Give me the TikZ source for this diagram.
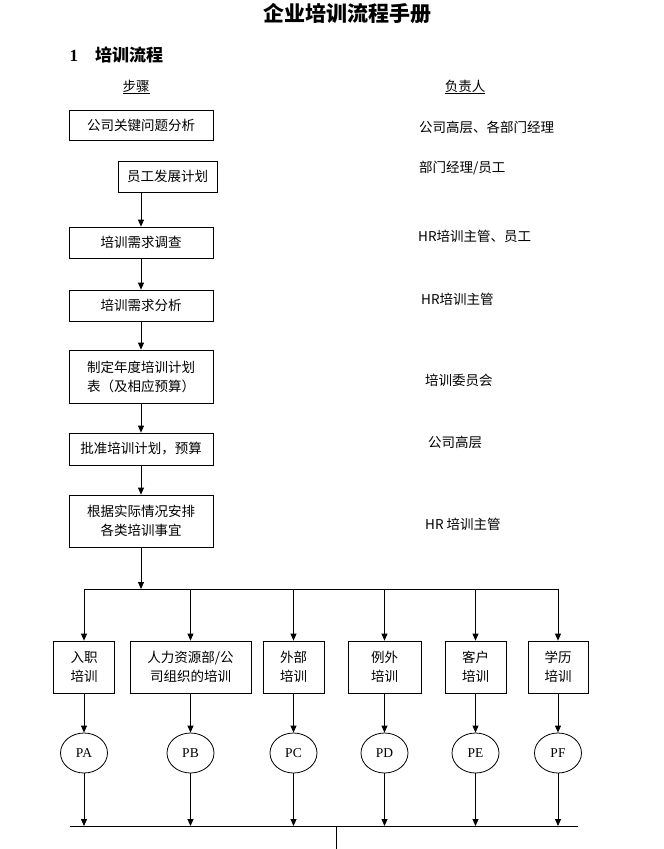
\documentclass[tikz,border=0pt]{standalone}
\usepackage{fontspec}
\setmainfont{Liberation Serif}
\newfontfamily\cjk{Noto Sans CJK SC}
\usetikzlibrary{arrows.meta,shapes.geometric}

\begin{document}
\begin{tikzpicture}[x=1pt,y=-1pt,
  stepbox/.style={draw, line width=0.8pt, inner sep=0pt, align=center, font=\cjk\fontsize{13.5}{19}\selectfont},
  lbl/.style={anchor=west, inner sep=0pt, font=\cjk\fontsize{13.5}{16}\selectfont},
  kind/.style={ellipse, draw, line width=0.8pt, minimum width=47pt, minimum height=40pt, inner sep=0pt, font=\fontsize{13.5}{15}\selectfont},
  flow/.style={line width=0.8pt, -{Triangle[length=7pt,width=6pt]}}]
\useasboundingbox (0,0) rectangle (664,849);
% heading
\node[font=\cjk\bfseries\fontsize{21}{23}\selectfont] (title) at (347,14) {企业培训流程手册};
\node[anchor=west, font=\bfseries\fontsize{17}{19}\selectfont] (sec) at (66,55) {1\quad{\cjk 培训流程}};
\node[font=\cjk\fontsize{13.5}{16}\selectfont] (hstep) at (136,87) {\underline{步骤}};
\node[font=\cjk\fontsize{13.5}{16}\selectfont] (hresp) at (465,87) {\underline{负责人}};
% main steps
\node[stepbox, minimum width=144pt, minimum height=30pt] (s1) at (141,125) {公司关键问题分析};
\node[stepbox, minimum width=99pt, minimum height=31pt] (s2) at (167.5,176.5) {员工发展计划};
\node[stepbox, minimum width=144pt, minimum height=31pt] (s3) at (141,242.5) {培训需求调查};
\node[stepbox, minimum width=144pt, minimum height=31pt] (s4) at (141,305.5) {培训需求分析};
\node[stepbox, minimum width=144pt, minimum height=53pt] (s5) at (141,376.5) {制定年度培训计划\\表（及相应预算）};
\node[stepbox, minimum width=144pt, minimum height=32pt] (s6) at (141,449) {批准培训计划，预算};
\node[stepbox, minimum width=144pt, minimum height=52pt] (s7) at (141,521) {根据实际情况安排\\各类培训事宜};
% responsible
\node[lbl] (r1) at (419,127) {公司高层、各部门经理};
\node[lbl] (r2) at (419,168) {部门经理/员工};
\node[lbl] (r3) at (418,236) {HR培训主管、员工};
\node[lbl] (r4) at (421,299) {HR培训主管};
\node[lbl] (r5) at (425,380) {培训委员会};
\node[lbl] (r6) at (428,442) {公司高层};
\node[lbl] (r7) at (425,524) {HR 培训主管};
% arrows
\draw[flow] (s2.south -| s3.north) -- (s3.north);
\draw[flow] (s3) -- (s4);
\draw[flow] (s4) -- (s5);
\draw[flow] (s5) -- (s6);
\draw[flow] (s6) -- (s7);
\coordinate (bus) at (141,589);
\draw[flow] (s7) -- (bus);
% training kinds
\node[stepbox, minimum width=61pt, minimum height=52pt] (tA) at (84,667) {入职\\培训};
\node[stepbox, minimum width=121pt, minimum height=52pt] (tB) at (190.5,667) {人力资源部/公\\司组织的培训};
\node[stepbox, minimum width=61pt, minimum height=52pt] (tC) at (293.5,667) {外部\\培训};
\node[stepbox, minimum width=73pt, minimum height=52pt] (tD) at (384.5,667) {例外\\培训};
\node[stepbox, minimum width=61pt, minimum height=52pt] (tE) at (475.5,667) {客户\\培训};
\node[stepbox, minimum width=60pt, minimum height=52pt] (tF) at (558,667) {学历\\培训};
\coordinate (busL) at (tA.north |- bus);
\coordinate (busR) at (tF.north |- bus);
\draw[line width=0.8pt] (busL) -- (busR);
\coordinate (end) at (70,826);
\coordinate (endR) at (578,826);
\draw[line width=0.8pt] (end) -- (endR);
\coordinate (tail) at (336,826);
\draw[line width=0.8pt] (tail) -- (336,849);
\foreach \k/\n in {A/PA,B/PB,C/PC,D/PD,E/PE,F/PF} {
  \node[kind] (p\k) at (t\k.center |- 0,753) {\n};
  \draw[flow] (t\k.north |- bus) -- (t\k.north);
  \draw[flow] (t\k) -- (p\k);
  \draw[flow] (p\k) -- (p\k.south |- end);
}
\end{tikzpicture}
\end{document}
